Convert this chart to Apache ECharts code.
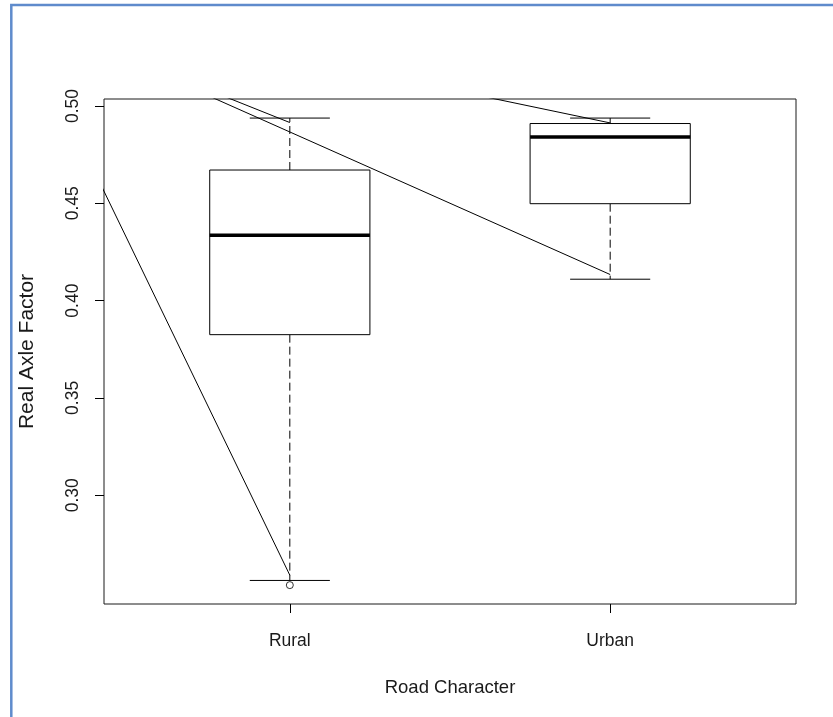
<!DOCTYPE html>
<html>
<head>
<meta charset="utf-8">
<title>Real Axle Factor by Road Character</title>
<script src="https://cdn.jsdelivr.net/npm/echarts@6/dist/echarts.min.js"></script>
<style>
  html, body { margin: 0; padding: 0; background: #ffffff; }
  #chart { width: 833px; height: 717px; }
</style>
</head>
<body>
<div id="chart"></div>
<script>
// Groups and their positions along the x axis
const categories = ['Rural', 'Urban'];
const catPos = [1, 2];

// Five-number summaries per group
const whiskerLow  = [0.2562, 0.4110];
const boxLow      = [0.3825, 0.4498];
const medians     = [0.4336, 0.4841];
const boxHigh     = [0.4671, 0.4910];
const whiskerHigh = [0.4938, 0.4938];

// Outlying observations [x, y]
const outliers = [[1, 0.2538]];

// Y axis ticks
const yTicks = [0.30, 0.35, 0.40, 0.45, 0.50];

// Straight reference segments drawn over the boxes (start/end points)
const segX = [[0.3, 1], [0.5, 1], [0.5, 2], [1.5, 2]];
const segY = [[0.4970, 0.2589], [0.5244, 0.4915], [0.5233, 0.4134], [0.5085, 0.4913]];

const FONT = '"Liberation Sans", Arial, Helvetica, sans-serif';
const INK = '#000000';

const boxData = catPos.map((x, i) => [x, whiskerLow[i], boxLow[i], medians[i], boxHigh[i], whiskerHigh[i]]);

function renderBox(params, api) {
  const x = api.value(0);
  const wl = api.value(1), bl = api.value(2), md = api.value(3), bh = api.value(4), wh = api.value(5);
  const half = 0.25, staple = 0.125;
  const pBL = api.coord([x - half, bl]);
  const pTR = api.coord([x + half, bh]);
  const pMedL = api.coord([x - half, md]);
  const pMedR = api.coord([x + half, md]);
  const pWL = api.coord([x, wl]);
  const pWH = api.coord([x, wh]);
  const pBoxLow = api.coord([x, bl]);
  const pBoxHigh = api.coord([x, bh]);
  const sL = api.coord([x - staple, wl])[0];
  const sR = api.coord([x + staple, wl])[0];
  const thin = { stroke: INK, lineWidth: 1, fill: null };
  const dashed = { stroke: INK, lineWidth: 1, lineDash: [8, 4] };
  return {
    type: 'group',
    children: [
      { type: 'line', shape: { x1: pWL[0], y1: pBoxLow[1], x2: pWL[0], y2: pWL[1] }, style: dashed },
      { type: 'line', shape: { x1: pWH[0], y1: pBoxHigh[1], x2: pWH[0], y2: pWH[1] }, style: dashed },
      { type: 'line', shape: { x1: sL, y1: pWL[1], x2: sR, y2: pWL[1] }, style: thin },
      { type: 'line', shape: { x1: sL, y1: pWH[1], x2: sR, y2: pWH[1] }, style: thin },
      { type: 'rect', shape: { x: pBL[0], y: pTR[1], width: pTR[0] - pBL[0], height: pBL[1] - pTR[1] },
        style: { stroke: INK, lineWidth: 1, fill: '#ffffff' } },
      { type: 'line', shape: { x1: pMedL[0], y1: pMedL[1], x2: pMedR[0], y2: pMedR[1] },
        style: { stroke: INK, lineWidth: 3.5 } }
    ]
  };
}

const segmentSeries = segX.map((xs, i) => ({
  type: 'line',
  data: xs.map((x, j) => [x, segY[i][j]]),
  symbol: 'none',
  clip: true,
  z: 5,
  lineStyle: { color: INK, width: 1 },
  silent: true
}));

const chart = echarts.init(document.getElementById('chart'), null, { renderer: 'canvas' });
chart.setOption({
  animation: false,
  backgroundColor: '#ffffff',
  graphic: [{
    type: 'polyline',
    shape: { points: [[11.3, 717], [11.3, 5], [833, 5]] },
    style: { stroke: '#5f8bcc', lineWidth: 2.5, fill: null },
    silent: true
  }],
  grid: {
    left: 104, top: 99, right: 37, bottom: 113,
    show: true, borderColor: '#1a1a1a', borderWidth: 1, backgroundColor: 'transparent'
  },
  xAxis: {
    type: 'value',
    min: 0.42, max: 2.58,
    name: 'Road Character',
    nameLocation: 'middle',
    nameGap: 74,
    nameTextStyle: { fontFamily: FONT, fontSize: 18.5, color: '#1a1a1a' },
    axisLine: { show: false },
    splitLine: { show: false },
    axisTick: { show: true, customValues: catPos, length: 9, lineStyle: { color: INK } },
    axisLabel: {
      customValues: catPos,
      formatter: v => categories[catPos.indexOf(Math.round(v))] || '',
      margin: 28,
      fontFamily: FONT, fontSize: 17.5, color: '#1a1a1a'
    }
  },
  yAxis: {
    type: 'value',
    min: 0.2441, max: 0.5036,
    name: 'Real Axle Factor',
    nameLocation: 'middle',
    nameRotate: 90,
    nameGap: 66,
    nameTextStyle: { fontFamily: FONT, fontSize: 21, color: '#1a1a1a' },
    axisLine: { show: false },
    splitLine: { show: false },
    axisTick: { show: true, customValues: yTicks, length: 9, lineStyle: { color: INK } },
    axisLabel: {
      customValues: yTicks,
      rotate: 90,
      formatter: v => v.toFixed(2),
      margin: 22,
      fontFamily: FONT, fontSize: 17.5, color: '#1a1a1a'
    }
  },
  series: [
    {
      type: 'custom',
      renderItem: renderBox,
      data: boxData,
      z: 3,
      silent: true
    },
    {
      type: 'scatter',
      data: outliers,
      symbol: 'circle',
      symbolSize: 7,
      itemStyle: { color: '#ffffff', borderColor: INK, borderWidth: 1 },
      z: 4,
      silent: true
    }
  ].concat(segmentSeries)
});
</script>
</body>
</html>
